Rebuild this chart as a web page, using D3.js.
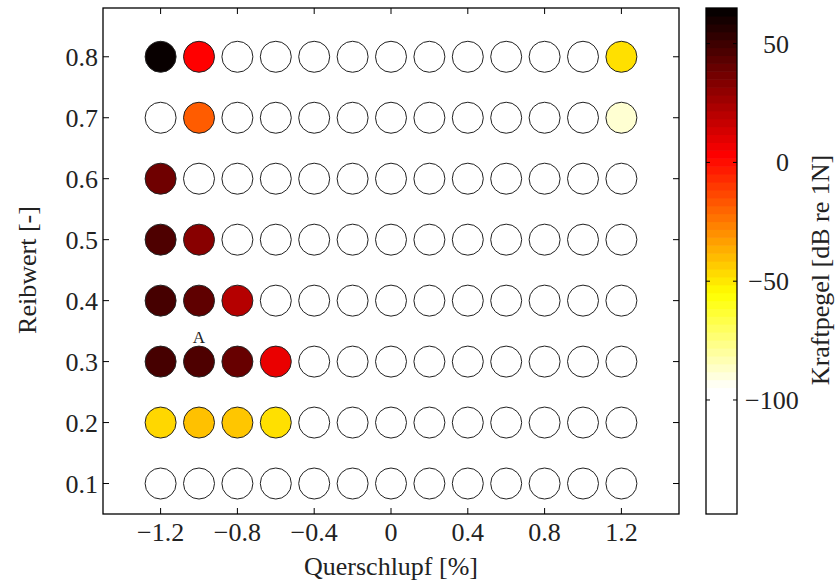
<!DOCTYPE html>
<html><head><meta charset="utf-8">
<script src="https://cdn.jsdelivr.net/npm/d3@7"></script>
<style>body{margin:0;background:#fff}svg{display:block}</style>
</head><body><svg id="c" width="837" height="583"></svg>
<script>
const slipValues = [-1.2,-1.0,-0.8,-0.6,-0.4,-0.2,0,0.2,0.4,0.6,0.8,1.0,1.2];
const frictionValues = [0.1,0.2,0.3,0.4,0.5,0.6,0.7,0.8];
const xTicks = [-1.2,-0.8,-0.4,0,0.4,0.8,1.2];
const yTicks = [0.1,0.2,0.3,0.4,0.5,0.6,0.7,0.8];
const cbTicks = [50,0,-50,-100];
// force level rows (dB re 1N), one array per friction value; -140 = below colour range (white)
const row01 = [-140,-140,-140,-140,-140,-140,-140,-140,-140,-140,-140,-140,-140];
const row02 = [-46,-41,-42,-48,-140,-140,-140,-140,-140,-140,-140,-140,-140];
const row03 = [48,46,40,8,-140,-140,-140,-140,-140,-140,-140,-140,-140];
const row04 = [48,42,21,-140,-140,-140,-140,-140,-140,-140,-140,-140,-140];
const row05 = [46,32,-140,-140,-140,-140,-140,-140,-140,-140,-140,-140,-140];
const row06 = [38,-140,-140,-140,-140,-140,-140,-140,-140,-140,-140,-140,-140];
const row07 = [-140,-18,-140,-140,-140,-140,-140,-140,-140,-140,-140,-140,-88];
const row08 = [63,3,-140,-140,-140,-140,-140,-140,-140,-140,-140,-140,-48];
const rows = [row01,row02,row03,row04,row05,row06,row07,row08];
const annotation = {text:"A", x:-1.0, y:0.3};

const FONT = "'Liberation Serif','DejaVu Serif',serif";
const svg = d3.select("#c");
const txt = () => svg.append("text").attr("font-family",FONT).attr("fill","#222");
const L=103, R=679, T=8, B=514;
const x = d3.scaleLinear().domain([-1.5,1.5]).range([L,R]);
const y = d3.scaleLinear().domain([0.05,0.88]).range([B,T]);
const cmin=-148, cmax=65;
const color = d3.scaleLinear().domain([cmin,-95,-55,3,65])
  .range(["#ffffff","#ffffff","#ffff00","#ff0000","#000000"]).clamp(true);
const fmt = t => t===0?"0":(t<0?"\u2212"+Math.abs(t).toFixed(1):t.toFixed(1));

// frame
svg.append("rect").attr("x",L).attr("y",T).attr("width",R-L).attr("height",B-T).attr("fill","none").attr("stroke","#000").attr("stroke-width",1.3);
const tl=6;
xTicks.forEach(t=>{
  const px=x(t);
  svg.append("line").attr("x1",px).attr("x2",px).attr("y1",B).attr("y2",B-tl).attr("stroke","#000");
  svg.append("line").attr("x1",px).attr("x2",px).attr("y1",T).attr("y2",T+tl).attr("stroke","#000");
  txt().attr("x",px).attr("y",541).attr("text-anchor","middle").attr("font-size",26).text(fmt(t));
});
yTicks.forEach(t=>{
  const py=y(t);
  svg.append("line").attr("x1",L).attr("x2",L+tl).attr("y1",py).attr("y2",py).attr("stroke","#000");
  svg.append("line").attr("x1",R).attr("x2",R-tl).attr("y1",py).attr("y2",py).attr("stroke","#000");
  txt().attr("x",98).attr("y",py+9).attr("text-anchor","end").attr("font-size",26).text(t.toFixed(1));
});
txt().attr("x",391).attr("y",575).attr("text-anchor","middle").attr("font-size",26).text("Querschlupf [%]");
txt().attr("transform","translate(36,270) rotate(-90)").attr("text-anchor","middle").attr("font-size",26).text("Reibwert [-]");

// circles
const pts=[];
rows.forEach((r,i)=>r.forEach((v,j)=>pts.push({x:slipValues[j],y:frictionValues[i],v})));
svg.selectAll("circle.p").data(pts).enter().append("circle").attr("class","p")
  .attr("cx",d=>x(d.x)).attr("cy",d=>y(d.y)).attr("r",15.5)
  .attr("fill",d=>color(d.v)).attr("stroke","#222").attr("stroke-width",1);
txt().attr("x",x(annotation.x)).attr("y",y(annotation.y)-19).attr("text-anchor","middle").attr("font-size",17).text(annotation.text);

// colorbar
const cL=706, cR=737;
const cy = d3.scaleLinear().domain([cmin,cmax]).range([B,T]);
const n=64;
for(let k=0;k<n;k++){
  const v0=cmin+k*(cmax-cmin)/n, v1=cmin+(k+1)*(cmax-cmin)/n;
  svg.append("rect").attr("x",cL).attr("width",cR-cL).attr("y",cy(v1)).attr("height",cy(v0)-cy(v1)+0.6)
    .attr("fill",color((v0+v1)/2));
}
svg.append("rect").attr("x",cL).attr("y",T).attr("width",cR-cL).attr("height",B-T).attr("fill","none").attr("stroke","#000").attr("stroke-width",1.3);
cbTicks.forEach(t=>{
  const py=cy(t);
  svg.append("line").attr("x1",cL).attr("x2",cL+4).attr("y1",py).attr("y2",py).attr("stroke","#000");
  svg.append("line").attr("x1",cR).attr("x2",cR-4).attr("y1",py).attr("y2",py).attr("stroke","#000");
  const long = t<=-100;
  txt().attr("x",long?745:789).attr("y",py+9).attr("text-anchor",long?"start":"end").attr("font-size",26)
    .text(t<0?"\u2212"+Math.abs(t):String(t));
});
txt().attr("transform","translate(829,270) rotate(-90)").attr("text-anchor","middle").attr("font-size",26).text("Kraftpegel [dB re 1N]");
</script></body></html>
